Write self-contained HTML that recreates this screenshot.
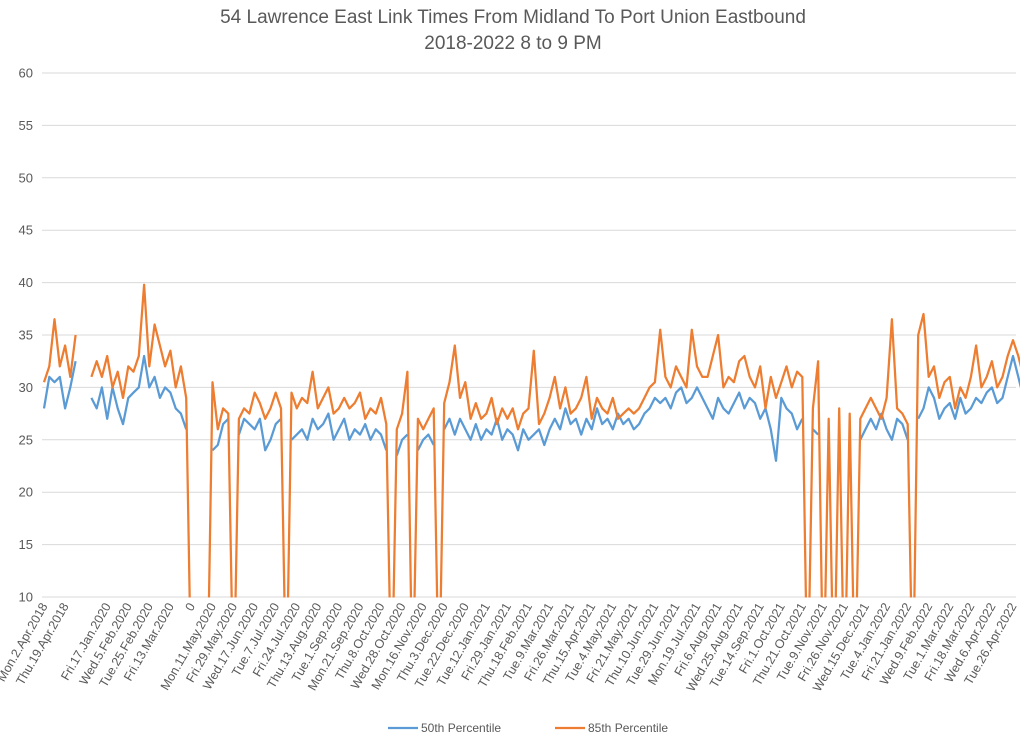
<!DOCTYPE html>
<html><head><meta charset="utf-8"><style>
body{margin:0;background:#fff}
svg{display:block;font-family:"Liberation Sans",sans-serif}
</style></head><body>
<svg id="chart" width="1024" height="738">
<text x="513" y="23" text-anchor="middle" font-size="19" fill="#595959">54 Lawrence East Link Times From Midland To Port Union Eastbound</text>
<text x="513" y="49" text-anchor="middle" font-size="19" fill="#595959">2018-2022 8 to 9 PM</text>
<defs><clipPath id="plotclip"><rect x="40" y="60" width="980" height="537.5"/></clipPath></defs>
<g id="grid"></g><g id="ylabels"></g><g id="xlabels"></g>
<g id="series" clip-path="url(#plotclip)"></g>
<g>
<line x1="388" y1="728" x2="418" y2="728" stroke="#5B9BD5" stroke-width="2.25"/>
<text x="421" y="732" font-size="12" fill="#595959">50th Percentile</text>
<line x1="555" y1="728" x2="585" y2="728" stroke="#ED7D31" stroke-width="2.25"/>
<text x="588" y="732" font-size="12" fill="#595959">85th Percentile</text>
</g>
</svg>
<script>
const yTicks=[10,15,20,25,30,35,40,45,50,55,60];
const xLabels=["Mon.2.Apr.2018","Thu.19.Apr.2018","","Fri.17.Jan.2020","Wed.5.Feb.2020","Tue.25.Feb.2020","Fri.13.Mar.2020","0","Mon.11.May.2020","Fri.29.May.2020","Wed.17.Jun.2020","Tue.7.Jul.2020","Fri.24.Jul.2020","Thu.13.Aug.2020","Tue.1.Sep.2020","Mon.21.Sep.2020","Thu.8.Oct.2020","Wed.28.Oct.2020","Mon.16.Nov.2020","Thu.3.Dec.2020","Tue.22.Dec.2020","Tue.12.Jan.2021","Fri.29.Jan.2021","Thu.18.Feb.2021","Tue.9.Mar.2021","Fri.26.Mar.2021","Thu.15.Apr.2021","Tue.4.May.2021","Fri.21.May.2021","Thu.10.Jun.2021","Tue.29.Jun.2021","Mon.19.Jul.2021","Fri.6.Aug.2021","Wed.25.Aug.2021","Tue.14.Sep.2021","Fri.1.Oct.2021","Thu.21.Oct.2021","Tue.9.Nov.2021","Fri.26.Nov.2021","Wed.15.Dec.2021","Tue.4.Jan.2022","Fri.21.Jan.2022","Wed.9.Feb.2022","Tue.1.Mar.2022","Fri.18.Mar.2022","Wed.6.Apr.2022","Tue.26.Apr.2022"];
const p50=[28,31,30.5,31,28,30,32.5,null,null,
29,28,30,27,30,28,26.5,29,29.5,30,33,30,31,29,30,29.5,28,27.5,26,
null,null,null,null,
24,24.5,26.5,27,null,
25.5,27,26.5,26,27,24,25,26.5,27,null,
25,25.5,26,25,27,26,26.5,27.5,25,26,27,25,26,25.5,26.5,25,26,25.5,24,null,
23.5,25,25.5,null,24,25,25.5,24.5,null,
26,27,25.5,27,26,25,26.5,25,26,25.5,27,25,26,25.5,24,26,25,25.5,26,24.5,
26,27,26,28,26.5,27,25.5,27,26,28,26.5,27,26,27.5,26.5,
27,26,26.5,27.5,28,29,28.5,29,28,29.5,30,28.5,29,30,29,
28,27,29,28,27.5,28.5,29.5,28,29,28.5,27,28,26,23,29,28,27.5,26,27,null,
26,25.5,null,26,null,26.5,null,25,null,
25,26,27,26,27.5,26,25,27,26.5,25,null,
27,28,30,
29,27,28,28.5,27,29,27.5,28,29,28.5,29.5,30,28.5,29,31,33,31,29,26,28];
const p85=[30.5,32,36.5,32,34,31,35,null,null,
31,32.5,31,33,30,31.5,29,32,31.5,33,39.8,32,36,34,32,33.5,30,32,29,
0,null,null,0,
30.5,26,28,27.5,0,
27,28,27.5,29.5,28.5,27,28,29.5,28,0,
29.5,28,29,28.5,31.5,28,29,30,27.5,28,29,28,28.5,29.5,27,28,27.5,29,26.5,0,
26,27.5,31.5,0,27,26,27,28,0,
28.5,30.5,34,29,30.5,27,28.5,27,27.5,29,26.5,28,27,28,26,27.5,28,33.5,26.5,27.5,
29,31,28,30,27.5,28,29,31,27,29,28,27.5,29,27,27.5,
28,27.5,28,29,30,30.5,35.5,31,30,32,31,30,35.5,32,31,
31,33,35,30,31,30.5,32.5,33,31,30,32,28,31,29,30.5,32,30,31.5,31,0,
28,32.5,0,27,0,28,0,27.5,0,
27,28,29,28,27,29,36.5,28,27.5,26.5,0,
35,37,31,
32,29,30.5,31,28,30,29,31,34,30,31,32.5,30,31,33,34.5,33,31,27.5,32.5];
const NS="http://www.w3.org/2000/svg";
const X0=44,X1=1013,Y10=597,Y60=73,PPL=4;
const N=(xLabels.length-1)*PPL+1;
function xs(i){return X0+i*(X1-X0)/(N-1);}
function ys(v){return Y10-(v-10)*(Y10-Y60)/50;}
const grid=document.getElementById('grid'),yl=document.getElementById('ylabels'),xl=document.getElementById('xlabels'),ser=document.getElementById('series');
yTicks.forEach(t=>{
 const l=document.createElementNS(NS,'line');
 l.setAttribute('x1',42);l.setAttribute('x2',1016);l.setAttribute('y1',ys(t));l.setAttribute('y2',ys(t));
 l.setAttribute('stroke','#d9d9d9');l.setAttribute('stroke-width','1');
 
 
 grid.appendChild(l);
 const tx=document.createElementNS(NS,'text');
 tx.setAttribute('x',33);tx.setAttribute('y',ys(t)+4.5);tx.setAttribute('text-anchor','end');
 tx.setAttribute('font-size','13');tx.setAttribute('fill','#595959');tx.textContent=t;
 
 
 yl.appendChild(tx);
});
xLabels.forEach((s,j)=>{
 if(!s)return;
 const x=xs(j*PPL)+4,y=606;
 const tx=document.createElementNS(NS,'text');
 tx.setAttribute('x',x);tx.setAttribute('y',y);tx.setAttribute('text-anchor','end');
 tx.setAttribute('font-size','12.5');tx.setAttribute('fill','#595959');
 tx.setAttribute('transform','rotate(-60 '+x+' '+y+')');tx.textContent=s;
 
 
 xl.appendChild(tx);
});
function draw(arr,color,name){
 let d='',pen=false;
 arr.forEach((v,i)=>{
  if(v===null){pen=false;return;}
  d+=(pen?'L':'M')+xs(i).toFixed(1)+' '+ys(v).toFixed(1)+' ';pen=true;
 });
 const p=document.createElementNS(NS,'path');
 p.setAttribute('d',d);p.setAttribute('fill','none');p.setAttribute('stroke',color);
 p.setAttribute('stroke-width','2.25');p.setAttribute('stroke-linejoin','round');
 
 
 ser.appendChild(p);
}
draw(p50,'#5B9BD5','series-50th-percentile');
draw(p85,'#ED7D31','series-85th-percentile');
</script>
</body></html>
